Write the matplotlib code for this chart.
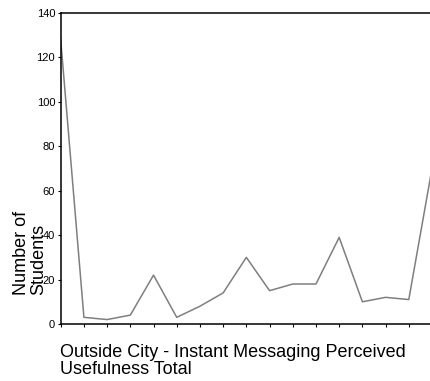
import matplotlib.pyplot as plt

plt.rcParams['font.family'] = ['Liberation Sans', 'DejaVu Sans']

# usefulness total score (0..16) and student counts
scores = list(range(17))
students = [128, 3, 2, 4, 22, 3, 8, 14, 30, 15, 18, 18, 39, 10, 12, 11, 70]
yticks = [0, 20, 40, 60, 80, 100, 120, 140]

fig = plt.figure(figsize=(4.30, 3.81), dpi=100)
W, H = 430, 381
# axes runs a little past the right edge of the figure
ax = fig.add_axes([60.7 / W, (H - 324) / H, (432 - 60.7) / W, (324 - 13) / H])

ax.plot(scores, students, color='#7f7f7f', lw=1.1)

ax.set_xlim(0, 16)
ax.set_ylim(0, 140)
ax.set_xticks(scores)
ax.set_xticklabels([])
ax.set_yticks(yticks)
ax.set_yticklabels([str(v) for v in yticks], fontsize=8)
ax.tick_params(direction='out', length=2.5, width=0.8, pad=1.5)

for s in ['left', 'top', 'bottom']:
    ax.spines[s].set_linewidth(1.1)
ax.spines['right'].set_visible(False)

fig.text(60 / W, (H - 361) / H, 'Outside City - Instant Messaging Perceived\nUsefulness Total',
         fontsize=13, ha='left', va='center', linespacing=1.05)
fig.text(30 / W, (H - 295) / H, 'Number of\nStudents', fontsize=13, rotation=90,
         ha='center', va='bottom', multialignment='left', linespacing=1.05)

fig.savefig('out.png', dpi=100)
